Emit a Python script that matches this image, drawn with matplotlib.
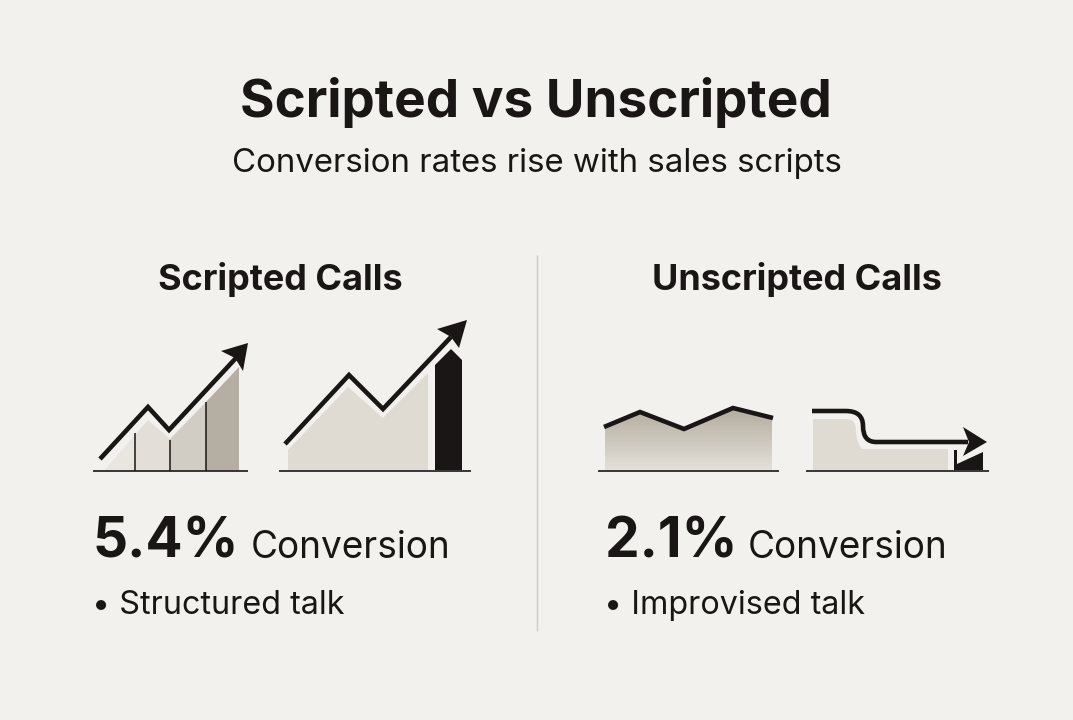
import numpy as np
import matplotlib
matplotlib.use('Agg')
import matplotlib.pyplot as plt
from matplotlib.patches import Polygon, PathPatch
from matplotlib.path import Path

BG = '#f3f1ed'; INK = '#1a1615'; SAND = '#dfdad2'
plt.rcParams['font.family'] = ['Inter', 'DejaVu Sans']

title = 'Scripted vs Unscripted'
subtitle = 'Conversion rates rise with sales scripts'
panel_titles = ['Scripted Calls', 'Unscripted Calls']
rates = ['5.4%', '2.1%']
rate_word = 'Conversion'
notes = ['• Structured talk', '• Improvised talk']

# icon 1
a_line_x = [100, 148, 169, 236]; a_line_y = [459, 407, 430, 358]
a_tip = [248, 343]; a_head_x = [221, 235, 243]; a_head_y = [351, 358, 371]
a_fill_x = [105, 135, 148, 170, 206, 239]; a_fill_y = [470, 435, 420, 439, 402, 367]
a_shades = ['#e9e6df', '#e3dfd8', '#d2cdc4', '#b5aea2']
a_ticks = [135, 170, 206]; a_tick_tops = [433, 440, 402]
# icon 2
b_line_x = [285, 349, 383, 451]; b_line_y = [444, 375, 409, 337]
b_tip = [467, 320]; b_head_x = [437, 451, 459]; b_head_y = [329, 337, 348]
b_fill_x = [288, 348, 383, 428, 428, 288]; b_fill_y = [450, 387, 418, 373, 470, 470]
b_bar_x = [435, 435, 451, 462, 462]; b_bar_y = [470, 365, 349, 360, 470]
# icon 3
c_line_x = [604, 640, 684, 733, 773]; c_line_y = [427, 412, 429, 408, 418]
# icon 4
d_tip = [987, 442]; d_head_x = [963, 969, 963]; d_head_y = [427, 442, 456]
d_small_x = [954, 957, 957, 983, 983, 954]; d_small_y = [450, 450, 464, 452, 470, 470]
baselines = [(93, 248), (279, 471), (598, 779), (806, 989)]
base_y = 470.5

fig = plt.figure(figsize=(10.73, 7.2), dpi=100, facecolor=BG)
ax = fig.add_axes([0, 0, 1, 1])
ax.set_xlim(0, 1073); ax.set_ylim(720, 0); ax.axis('off')

def poly(x, y, color, z=2):
    ax.add_patch(Polygon(np.column_stack([x, y]), closed=True, fc=color, ec='none', zorder=z))

def arrow(x, y, tip, hx, hy):
    ax.plot(x, y, color=INK, lw=3.3, solid_joinstyle='miter', solid_capstyle='butt', zorder=5)
    poly([tip[0], hx[0], hx[1], hx[2]], [tip[1], hy[0], hy[1], hy[2]], INK, 6)

# icon 1
for i, c in enumerate(a_shades):
    xs = a_fill_x; ys = a_fill_y
    edges = [105, 135, 170, 206, 239][i:i + 2]
    mask = np.linspace(edges[0], edges[1], 30)
    top = np.interp(mask, xs, ys)
    poly(np.r_[mask, edges[1], edges[0]], np.r_[top, base_y, base_y], c)
ax.vlines(a_ticks, a_tick_tops, base_y, color=INK, lw=1.1, zorder=3)
arrow(a_line_x, a_line_y, a_tip, a_head_x, a_head_y)

# icon 2
poly(b_fill_x, b_fill_y, SAND)
poly(b_bar_x, b_bar_y, INK)
arrow(b_line_x, b_line_y, b_tip, b_head_x, b_head_y)

# icon 3
grad = np.linspace(0, 1, 64).reshape(-1, 1)
c0 = np.array(matplotlib.colors.to_rgb('#b3ac9f')); c1 = np.array(matplotlib.colors.to_rgb('#e4e0d9'))
img = c0[None, None, :] * (1 - grad[..., None]) + c1[None, None, :] * grad[..., None]
im = ax.imshow(img, extent=[605, 772, 470, 408], aspect='auto', zorder=2, interpolation='bilinear')
clip = Polygon(np.column_stack([c_line_x + [773, 604], c_line_y + [470, 470]]), closed=True, transform=ax.transData)
im.set_clip_path(clip)
ax.set_xlim(0, 1073); ax.set_ylim(720, 0)
ax.plot(c_line_x, c_line_y, color=INK, lw=3.3, solid_joinstyle='miter', solid_capstyle='butt', zorder=5)

# icon 4
fill_path = Path([(813, 419), (846, 419), (856, 419), (856, 430), (856, 442), (862, 449), (872, 449),
                  (948, 449), (948, 470), (813, 470), (813, 419)],
                 [Path.MOVETO, Path.LINETO, Path.CURVE3, Path.CURVE3, Path.CURVE3, Path.CURVE3, Path.LINETO,
                  Path.LINETO, Path.LINETO, Path.LINETO, Path.CLOSEPOLY])
ax.add_patch(PathPatch(fill_path, fc=SAND, ec='none', zorder=2))
line_path = Path([(812, 411), (846, 411), (863, 411), (863, 426), (863, 442), (876, 442), (968, 442)],
                 [Path.MOVETO, Path.LINETO, Path.CURVE3, Path.CURVE3, Path.CURVE3, Path.CURVE3, Path.LINETO])
ax.add_patch(PathPatch(line_path, fc='none', ec=INK, lw=3.3, capstyle='butt', zorder=5))
poly([d_tip[0], d_head_x[0], d_head_x[1], d_head_x[2]], [d_tip[1], d_head_y[0], d_head_y[1], d_head_y[2]], INK, 6)
poly(d_small_x, d_small_y, INK, 4)

for x0, x1 in baselines:
    ax.plot([x0, x1], [base_y, base_y], color=INK, lw=1.2, solid_capstyle='butt', zorder=7)

# separator
ax.plot([536.5, 536.5], [255, 631], color='#d0cdc7', lw=1.0, solid_capstyle='butt', zorder=1)

def txt(x, y, s, px, weight='normal', ha='center', color=INK):
    ax.text(x, y, s, fontsize=px * 0.72, fontweight=weight, ha=ha, va='center_baseline', color=color)

txt(536, 97, title, 53, 'bold')
txt(536.5, 160, subtitle, 33)
txt(280, 276, panel_titles[0], 36, 'bold')
txt(797, 276, panel_titles[1], 36, 'bold')
txt(93, 537, rates[0], 55, 'bold', 'left')
txt(605, 537, rates[1], 55, 'bold', 'left')
txt(251, 544, rate_word, 37, 'normal', 'left')
txt(748, 544, rate_word, 37, 'normal', 'left')
txt(92, 602, notes[0], 32.3, 'normal', 'left')
txt(604, 602, notes[1], 32.3, 'normal', 'left')

fig.savefig('out.png', dpi=100, facecolor=BG)
